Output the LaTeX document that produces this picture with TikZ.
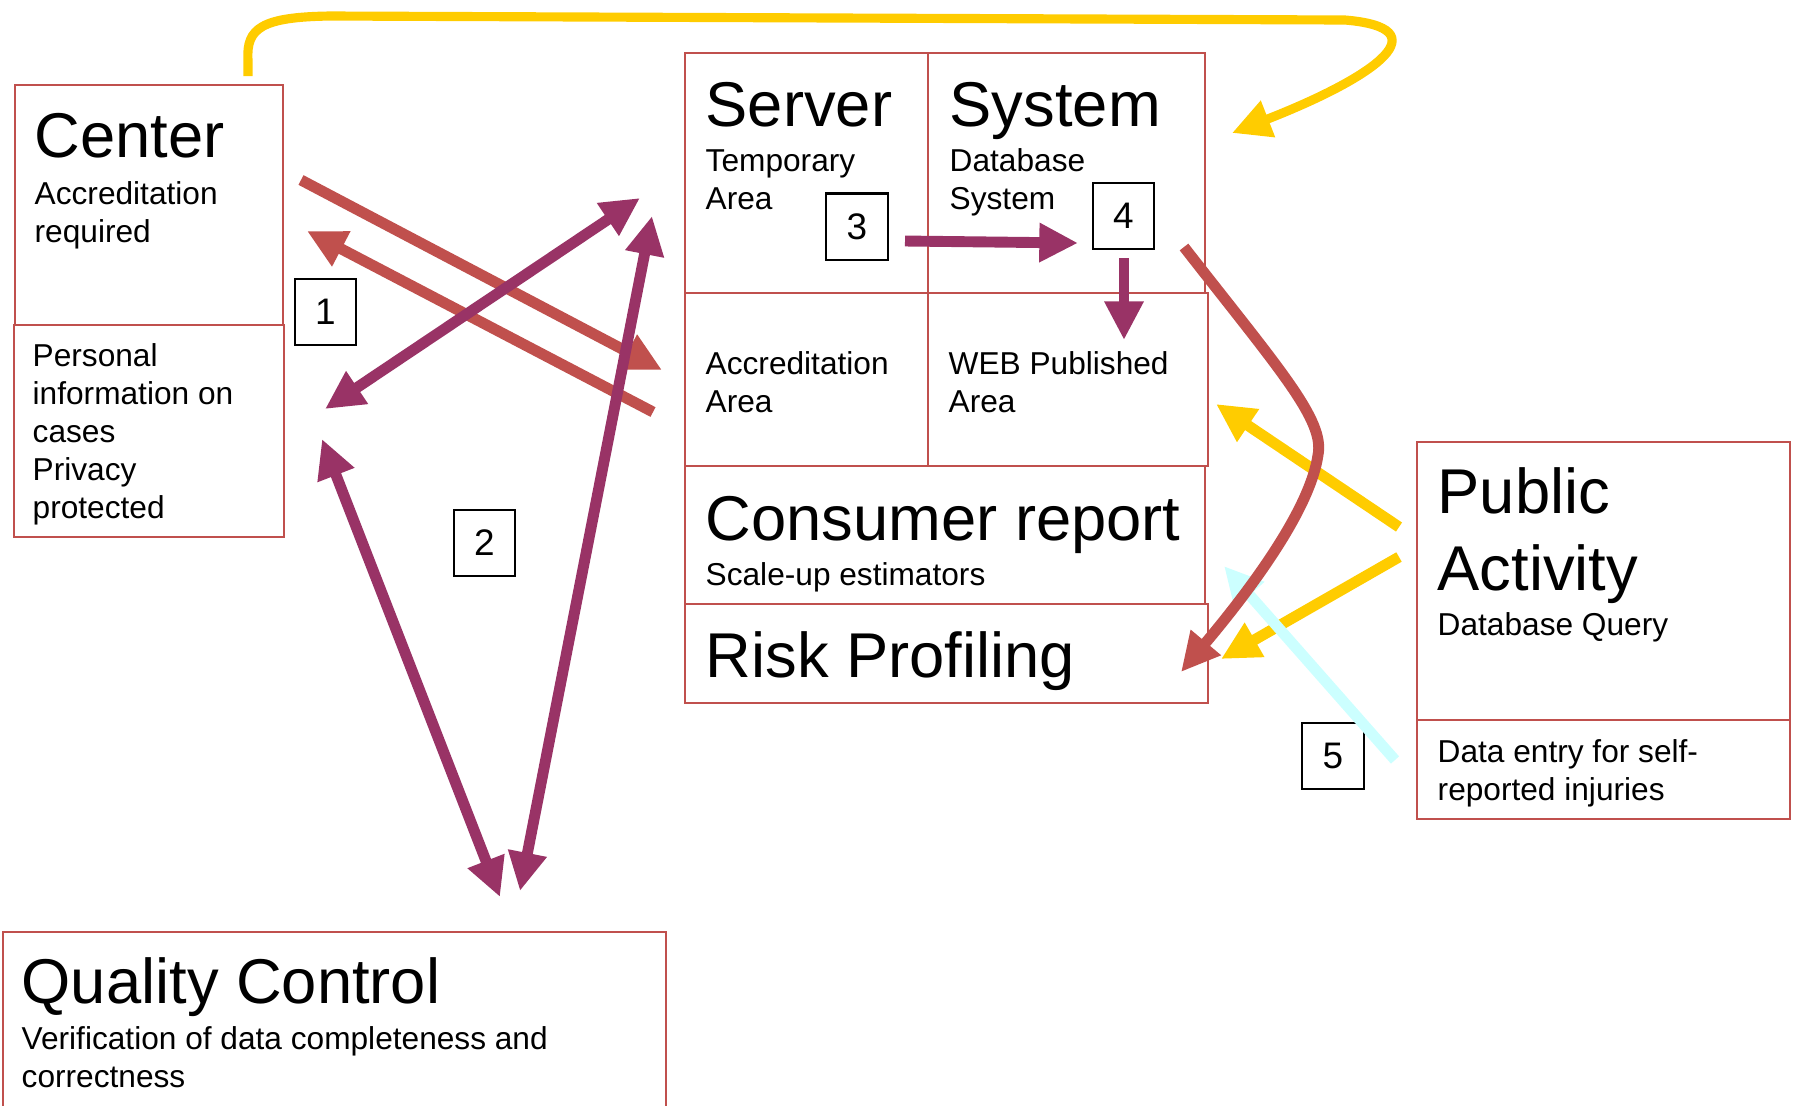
\documentclass[tikz,border=0pt]{standalone}
\usepackage{fontspec}
\setmainfont{Liberation Sans}
\usepackage{tikz}
\usetikzlibrary{arrows.meta,fit}
\definecolor{boxred}{RGB}{192,80,77}
\definecolor{plum}{RGB}{153,51,102}
\definecolor{gold}{RGB}{255,204,0}
\definecolor{ice}{RGB}{204,255,255}

\begin{document}
\begin{tikzpicture}[x=0.01cm, y=-0.01cm, >={Triangle[length=11pt,width=10.5pt]},
    box/.style={draw=boxred, line width=0.7pt, inner sep=0pt},
    num/.style={draw, line width=0.6pt, minimum width=17.4pt, minimum height=18.8pt, inner sep=0pt, font=\fontsize{10.5}{12}\selectfont},
    title/.style={anchor=base west, inner sep=0pt, align=left, font=\fontsize{18}{21.9}\selectfont},
    sub/.style={anchor=base west, inner sep=0pt, align=left, font=\fontsize{9}{10.8}\selectfont},
    flow/.style={line width=3.1pt}]
        \useasboundingbox (0,0) rectangle (1800,1105);

        % boxes
        \node[box, fit={(15,85) (283,325)}]       (c)  {};
        \node[box, fit={(14,325) (284,537)}]      (pi) {};
        \node[box, fit={(685,53) (928,293)}]      (sv) {};
        \node[box, fit={(928,53) (1205,293)}]     (sy) {};
        \node[box, fit={(685,293) (928,466)}]     (aa) {};
        \node[box, fit={(928,293) (1208,466)}]    (wa) {};
        \node[box, fit={(685,466) (1205,604)}]    (cr) {};
        \node[box, fit={(685,604) (1208,703)}]    (rp) {};
        \node[box, fit={(1417,442) (1790,720)}]   (pa) {};
        \node[box, fit={(1417,720) (1790,819)}]   (de) {};
        \node[box, fit={(3,932) (666,1130)}]      (qc) {};

        % texts (multi-line ones sit on their last baseline)
        \node[title] (ct)  at (34,157)   {Center};
        \node[sub]   (cs)  at (34,242)   {Accreditation\\required};
        \node[sub]   (pit) at (32,518)   {Personal\\information on\\cases\\Privacy\\protected};
        \node[title] (svt) at (705,126)  {Server};
        \node[sub]   (svs) at (705,209)  {Temporary\\Area};
        \node[title] (syt) at (949,126)  {System};
        \node[sub]   (sys) at (949,209)  {Database\\System};
        \node[sub]   (aat) at (705,412)  {Accreditation\\Area};
        \node[sub]   (wat) at (948,412)  {WEB Published\\Area};
        \node[title] (crt) at (705,540)  {Consumer report};
        \node[sub]   (crs) at (705,585)  {Scale-up estimators};
        \node[title] (rpt) at (705,677)  {Risk Profiling};
        \node[title] (pat) at (1437,590) {Public\\Activity};
        \node[sub]   (pas) at (1437,635) {Database Query};
        \node[sub]   (det) at (1437,800) {Data entry for self-\\reported injuries};
        \node[title] (qct) at (21,1003)  {Quality Control};
        \node[sub]   (qcs) at (21,1087)  {Verification of data completeness and\\correctness};

        % step numbers
        \node[num] (n1) at (325.5,312) {1};
        \node[num] (n2) at (484.5,543) {2};
        \node[num] (n3) at (857,226.5) {3};
        \node[num] (n4) at (1123.5,216) {4};
        \node[num] (n5) at (1333,756)  {5};

        % arrow ends
        \coordinate (r1s) at (301,180);   \coordinate (r1e) at (662,370);
        \coordinate (r2s) at (653,412);   \coordinate (r2e) at (307,231);
        \coordinate (p1s) at (325,409);   \coordinate (p1e) at (640,198);
        \coordinate (p2s) at (322,439);   \coordinate (p2e) at (500,897);
        \coordinate (p3s) at (652,216);   \coordinate (p3e) at (520,891);
        \coordinate (p4s) at (905,241);   \coordinate (p4e) at (1078,243);
        \coordinate (p5s) at (1124,258);  \coordinate (p5e) at (1124,340);
        \coordinate (y1s) at (1399,527);  \coordinate (y1e) at (1216,404);
        \coordinate (y2s) at (1399,557);  \coordinate (y2e) at (1221,659);
        \coordinate (cys) at (1395,760);  \coordinate (cye) at (1224,566);
        \coordinate (rcs) at (1184,247);  \coordinate (rcm) at (1318,455);
        \coordinate (rce) at (1181,672);
        \coordinate (ybs) at (248,76);    \coordinate (ybe) at (1232,133);

        \path[->, flow, color=boxred]
                (r1s) edge (r1e)
                (r2s) edge (r2e);
        \path[<->, flow, color=plum]
                (p1s) edge (p1e)
                (p2s) edge (p2e)
                (p3s) edge (p3e);
        \path[->, flow, color=plum]
                (p4s) edge (p4e)
                (p5s) edge (p5e);
        \path[->, flow, color=gold]
                (y1s) edge (y1e)
                (y2s) edge (y2e);
        \path[->, flow, color=ice]
                (cys) edge (cye);

        \draw[->, flow, color=boxred] (rcs) .. controls (1280,370) and (1325,420) .. (rcm)
                .. controls (1310,510) and (1250,590) .. (rce);
        \draw[->, line width=2.6pt, color=gold] (ybs) -- (248,60) .. controls (246,28) and (262,17) .. (330,16)
                -- (1345,20) .. controls (1440,28) and (1380,75) .. (ybe);

\end{tikzpicture}
\end{document}
